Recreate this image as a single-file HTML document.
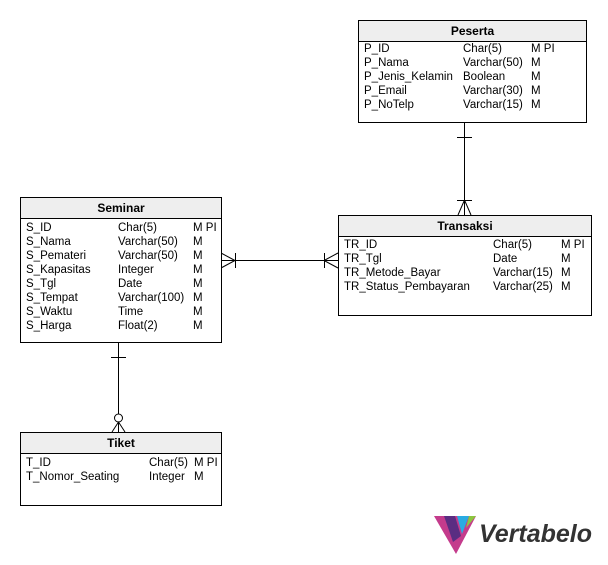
<!DOCTYPE html>
<html><head><style>
body{margin:0;background:#fff;width:608px;height:565px;position:relative;overflow:hidden;font-family:"Liberation Sans",Arial,sans-serif;font-size:11.5px;color:#000}
.t{position:absolute;border:1px solid #000;background:#fff;box-sizing:border-box}
.h{height:20px;background:#eee;border-bottom:1px solid #000;text-align:center;font-weight:bold;line-height:20px;font-size:12px}
.r{position:absolute;white-space:pre;line-height:14px}
</style></head><body>
<svg width="608" height="565" style="position:absolute;left:0;top:0" fill="none" stroke="#000" stroke-width="1">
<line x1="221" y1="260.5" x2="338" y2="260.5"/>
<polyline points="221,253 235,260.5 221,268"/><line x1="235.5" y1="253" x2="235.5" y2="268"/>
<polyline points="338,253 324,260.5 338,268"/><line x1="324.5" y1="253" x2="324.5" y2="268"/>
<line x1="464.5" y1="122" x2="464.5" y2="215"/>
<line x1="457" y1="137.5" x2="472" y2="137.5"/>
<polyline points="458,215 464.5,200 471,215"/><line x1="457" y1="200.5" x2="472" y2="200.5"/>
<line x1="118.5" y1="342" x2="118.5" y2="414"/>
<line x1="111" y1="357.5" x2="126" y2="357.5"/>
<circle cx="118.5" cy="418" r="4"/>
<polyline points="112,432 118.5,422 125,432"/><line x1="118.5" y1="422" x2="118.5" y2="432"/>
</svg>

<div class="t" style="left:358px;top:20px;width:229px;height:103px"><div class="h">Peserta</div></div>
<div class="r" style="left:364px;top:42px">P_ID
P_Nama
P_Jenis_Kelamin
P_Email
P_NoTelp</div>
<div class="r" style="left:463px;top:42px">Char(5)
Varchar(50)
Boolean
Varchar(30)
Varchar(15)</div>
<div class="r" style="left:531px;top:42px">M PI
M
M
M
M</div>

<div class="t" style="left:20px;top:197px;width:202px;height:146px"><div class="h">Seminar</div></div>
<div class="r" style="left:26px;top:221px">S_ID
S_Nama
S_Pemateri
S_Kapasitas
S_Tgl
S_Tempat
S_Waktu
S_Harga</div>
<div class="r" style="left:118px;top:221px">Char(5)
Varchar(50)
Varchar(50)
Integer
Date
Varchar(100)
Time
Float(2)</div>
<div class="r" style="left:193px;top:221px">M PI
M
M
M
M
M
M
M</div>

<div class="t" style="left:338px;top:215px;width:254px;height:101px"><div class="h">Transaksi</div></div>
<div class="r" style="left:344px;top:238px">TR_ID
TR_Tgl
TR_Metode_Bayar
TR_Status_Pembayaran</div>
<div class="r" style="left:493px;top:238px">Char(5)
Date
Varchar(15)
Varchar(25)</div>
<div class="r" style="left:561px;top:238px">M PI
M
M
M</div>

<div class="t" style="left:20px;top:432px;width:202px;height:74px"><div class="h">Tiket</div></div>
<div class="r" style="left:26px;top:456px">T_ID
T_Nomor_Seating</div>
<div class="r" style="left:149px;top:456px">Char(5)
Integer</div>
<div class="r" style="left:194px;top:456px">M PI
M</div>

<svg width="46" height="42" style="position:absolute;left:432px;top:514px">
<polygon points="2,2 44,2 24,40" fill="#c43b8c"/>
<polygon points="12,2 23,2 29,22 21,28" fill="#5a2d82"/>
<polygon points="25,2 37,2 30,20" fill="#29abe2"/>
<polygon points="37,2 44,2 34,14" fill="#8cc63f"/>
</svg>
<div style="position:absolute;left:479px;top:519px;font-size:25px;font-style:italic;font-weight:bold;color:#333;line-height:30px">Vertabelo</div>
</body></html>
